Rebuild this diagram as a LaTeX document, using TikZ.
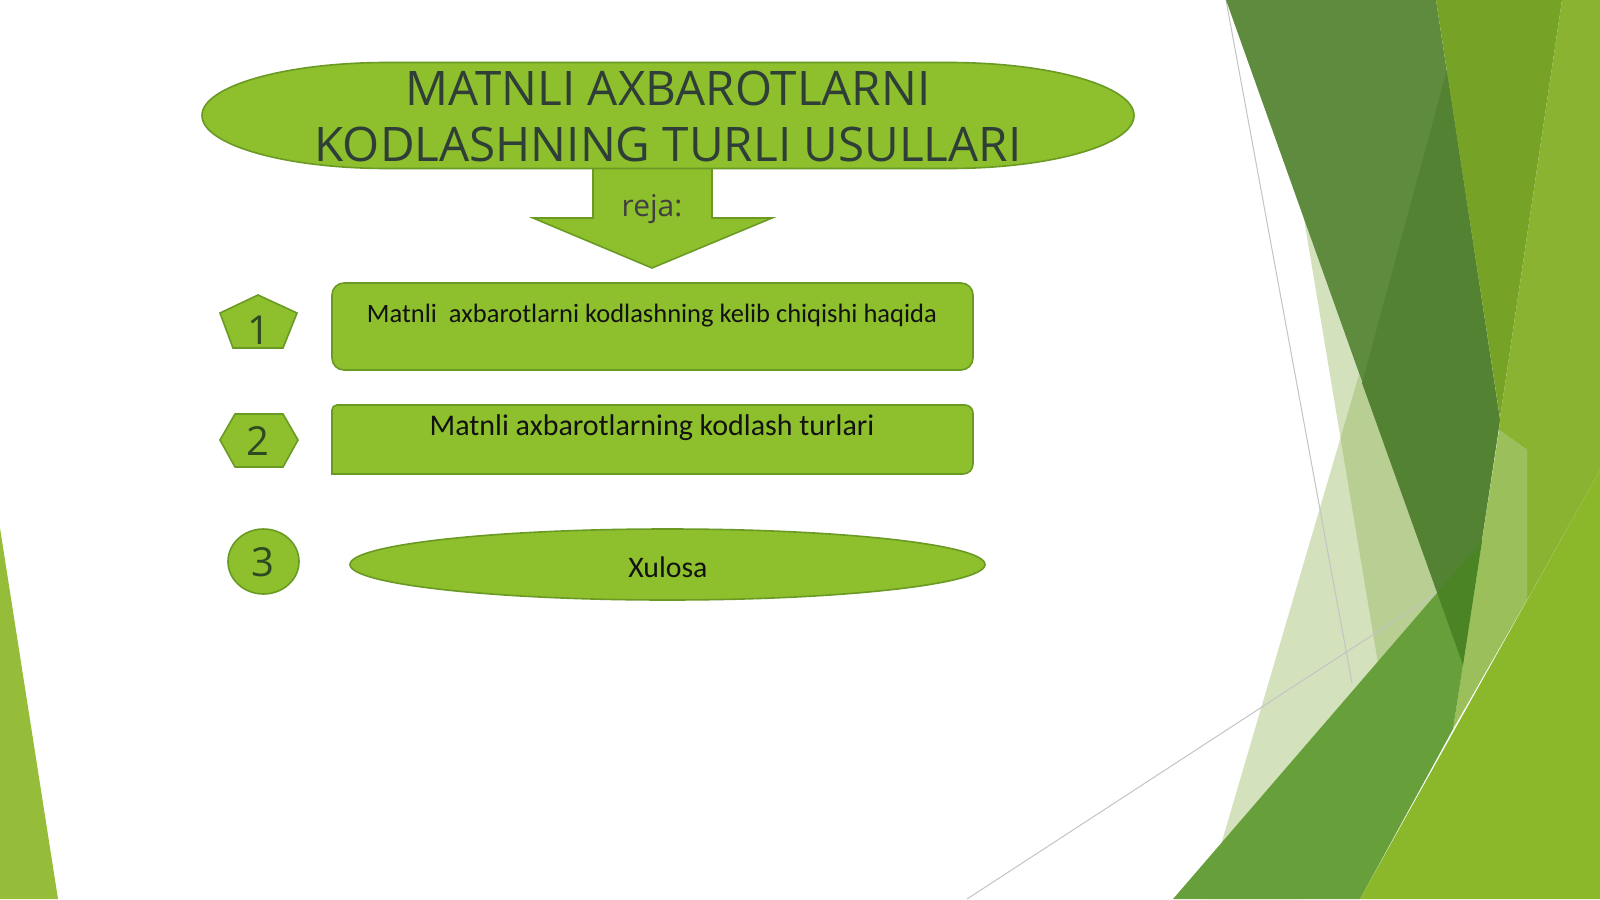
\documentclass[tikz,border=0pt]{standalone}
\usepackage{fontspec}
\setmainfont{Carlito}
\newfontfamily\osans{Open Sans}
\usetikzlibrary{shapes.geometric}
\definecolor{lime}{HTML}{8DC02C}
\definecolor{limeedge}{HTML}{6A9A24}
\definecolor{titlecol}{HTML}{2F3F37}
\definecolor{numcol}{HTML}{2F4A22}
\definecolor{rejacol}{HTML}{404040}
\definecolor{leftg}{HTML}{95BD3A}
\definecolor{paleg}{HTML}{8DB151}
\definecolor{darkg}{HTML}{5E8B3E}
\definecolor{darkerg}{HTML}{548233}
\definecolor{midg}{HTML}{76A226}
\definecolor{rightg}{HTML}{8AB332}
\definecolor{stripg}{HTML}{9BBF5A}
\definecolor{lowg}{HTML}{67A03A}
\definecolor{juncg}{HTML}{4A8425}
\definecolor{limeg}{HTML}{8BB82B}
\definecolor{grayln}{HTML}{C4C4C4}
\tikzset{
  shp/.style={fill=lime, draw=limeedge, line width=0.8pt},
  palefill/.style={fill=paleg, fill opacity=0.386},
  titletxt/.style={font=\osans\fontsize{23.8}{23.8}\selectfont, text=titlecol, inner sep=0},
  rejatxt/.style={font=\osans\fontsize{15}{15}\selectfont, text=rejacol, inner sep=0},
  numtxt/.style={font=\osans\fontsize{20}{20}\selectfont, text=numcol, inner sep=0},
  boxtxtA/.style={font=\fontsize{13.25}{13.25}\selectfont, text=black!93, inner sep=0},
  boxtxtB/.style={font=\fontsize{15}{15}\selectfont, text=black!93, inner sep=0},
  grayline/.style={draw=grayln, line width=0.5pt}
}
\begin{document}
\begin{tikzpicture}[x=0.5pt,y=-0.5pt]
\fill[white] (0,0) rectangle (1600,899);
\useasboundingbox (0,0) rectangle (1600,899);
% left decoration
\fill[leftg] (0,528) -- (58,899) -- (0,899) -- cycle;
% right decoration
\fill[palefill] (1304,219) -- (1385,705) -- (1437,593) -- cycle;
\fill[palefill] (1359,375) -- (1205,899) -- (1300,899) -- (1437,593) -- cycle;
\draw[grayline] (1226,0) -- (1352,683);
\draw[grayline] (967,899) -- (1437,593);
\fill[darkg] (1226,0) -- (1436,0) -- (1500,420) -- (1463,665) -- cycle;
\fill[darkerg] (1447,70) -- (1500,420) -- (1463,665) -- (1362,383) -- cycle;
\fill[midg] (1436,0) -- (1562,0) -- (1500,418) -- cycle;
\fill[rightg] (1562,0) -- (1600,0) -- (1600,470) -- (1527,600) -- (1527,450) -- (1499,430) -- (1500,418) -- cycle;
\fill[stripg] (1499,430) -- (1527,450) -- (1527,600) -- (1453,729) -- cycle;
\fill[lowg] (1173,899) -- (1437,593) -- (1463,665) -- (1453,729) -- (1360,899) -- cycle;
\fill[juncg] (1437,593) -- (1482,541) -- (1463,665) -- cycle;
\fill[limeg] (1360,899) -- (1600,470) -- (1600,899) -- cycle;
% arrow under title
\draw[shp, line join=miter] (593,150) -- (593,218) -- (533,218) -- (652,268) -- (772,218) -- (712,218) -- (712,150) -- cycle;
% title oval
\draw[shp] (387,62.5) -- (949,62.5)
  arc[start angle=90, end angle=-90, x radius=92.5pt, y radius=26.5pt]
  -- (387,168.5)
  arc[start angle=-90, end angle=-270, x radius=92.5pt, y radius=26.5pt] -- cycle;
\coordinate (title) at (668,115.5);
\node[titletxt, anchor=base] (t1) at (668,105) {MATNLI AXBAROTLARNI};
\node[titletxt, anchor=base] (t2) at (668,162) {KODLASHNING TURLI USULLARI};
\node[rejatxt, anchor=base] (reja) at (652,216.5) {reja:};
% item 1
\draw[shp] (258,295) -- (297,313) -- (283,348) -- (233,348) -- (220,313) -- cycle;
\node[numtxt, anchor=base] (n1) at (259,344) {1};
\node[shp, rectangle, rounded corners=6pt, minimum width=320.5pt, minimum height=43.5pt, inner sep=0] (b1) at (652.5,326.5) {};
\node[boxtxtA, anchor=base] (b1t) at (652,322) {Matnli\ \ axbarotlarni kodlashning kelib chiqishi haqida};
% item 2
\draw[shp] (220,440) -- (235,414) -- (283,414) -- (298,440) -- (283,467) -- (235,467) -- cycle;
\node[numtxt, anchor=base] (n2) at (258,455) {2};
\draw[shp] (332,474) [rounded corners=2.5pt] -- (332,405) [rounded corners=4pt] -- (973,405) [rounded corners=5pt] -- (973,474) [sharp corners] -- cycle;
\node[boxtxtB, anchor=base] (b2t) at (652,435) {Matnli axbarotlarning kodlash turlari};
% item 3
\node[shp, ellipse, minimum width=35.5pt, minimum height=32.5pt, inner sep=0] (c3) at (263.5,561.5) {};
\node[numtxt, anchor=base] (n3) at (263,576) {3};
\node[shp, ellipse, minimum width=317.5pt, minimum height=35.5pt, inner sep=0] (b3) at (667.5,564.5) {};
\node[boxtxtB, anchor=base, font=\fontsize{14.9}{14.9}\selectfont] (b3t) at (668,577) {Xulosa};
\end{tikzpicture}
\end{document}
